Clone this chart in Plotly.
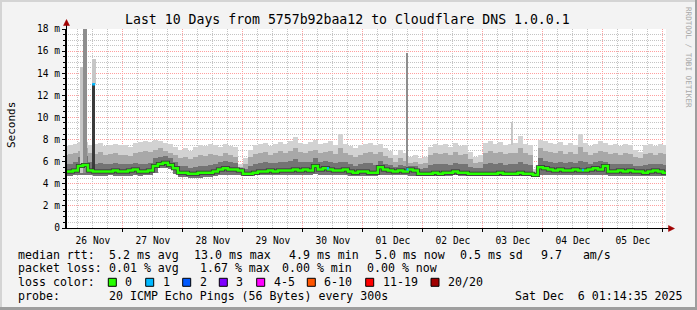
import plotly.graph_objects as go
from datetime import datetime, timedelta

# ---------------- data ----------------
title_text = "Last 10 Days from 5757b92baa12 to Cloudflare DNS 1.0.0.1"
y_axis_title = "Seconds"
watermark = "RRDTOOL / TOBI OETIKER"
first_bin = "2025-11-26 00:00:00"
bin_hours = 2
range_start = "2025-11-26 01:14:35"
range_end = "2025-12-06 01:14:35"

y_tick_vals = [0, 2, 4, 6, 8, 10, 12, 14, 16, 18]
y_tick_text = ["0", "2 m", "4 m", "6 m", "8 m", "10 m", "12 m", "14 m", "16 m", "18 m"]

# 2-hour bins, values in ms (Nov 26 .. Dec 6)
median = [
    5.1, 5.1, 5.2, 5.6, 5.7, 5.2, 5.1, 5.1, 5.1, 5.1, 5.2, 5.1,
    5.1, 5.2, 5.3, 5.1, 5.1, 5.2, 5.6, 5.8, 5.9, 5.7, 5.4, 5.0,
    5.0, 4.9, 4.9, 5.0, 5.0, 5.0, 5.1, 5.3, 5.4, 5.3, 5.3, 5.2,
    4.9, 4.9, 5.0, 5.1, 5.1, 5.2, 5.1, 5.2, 5.2, 5.2, 5.3, 5.2,
    5.3, 5.2, 5.6, 5.3, 5.4, 5.3, 5.2, 5.2, 5.3, 5.1, 5.0, 5.1,
    5.1, 5.0, 5.0, 5.5, 5.3, 5.2, 5.1, 5.2, 5.1, 5.3, 5.2, 4.9,
    4.9, 4.9, 5.0, 4.9, 5.0, 5.0, 5.1, 5.0, 5.0, 4.9, 4.9, 4.9,
    4.9, 4.9, 4.9, 5.0, 4.9, 4.9, 4.9, 5.0, 4.9, 4.9, 4.8, 5.5,
    5.4, 5.3, 5.2, 5.3, 5.2, 5.2, 5.3, 5.2, 5.2, 5.3, 5.4, 5.3,
    5.6, 5.1, 5.1, 5.2, 5.1, 5.2, 5.1, 5.1, 5.0, 5.1, 5.2, 5.1,
    5.0,
]
smoke_low = [
    4.7, 4.7, 4.8, 4.8, 4.8, 4.8, 4.7, 4.7, 4.7, 4.8, 4.7, 4.7,
    4.7, 4.7, 4.8, 4.7, 4.8, 4.8, 5.0, 5.4, 5.4, 5.3, 4.9, 4.6,
    4.6, 4.5, 4.5, 4.5, 4.6, 4.6, 4.7, 4.8, 4.8, 4.8, 4.8, 4.8,
    4.7, 4.7, 4.8, 4.8, 4.8, 4.8, 4.8, 4.8, 4.8, 4.8, 4.8, 4.8,
    4.8, 4.8, 4.9, 4.8, 4.8, 4.8, 4.8, 4.8, 4.8, 4.7, 4.7, 4.7,
    4.7, 4.7, 4.7, 4.8, 4.8, 4.8, 4.8, 4.8, 4.8, 4.7, 4.7, 4.7,
    4.7, 4.7, 4.7, 4.7, 4.7, 4.7, 4.8, 4.7, 4.7, 4.7, 4.7, 4.7,
    4.7, 4.7, 4.7, 4.7, 4.7, 4.7, 4.7, 4.7, 4.7, 4.7, 4.6, 4.8,
    4.8, 4.8, 4.8, 4.8, 4.8, 4.8, 4.8, 4.8, 4.8, 4.8, 4.8, 4.8,
    4.8, 4.7, 4.7, 4.7, 4.7, 4.7, 4.7, 4.7, 4.7, 4.7, 4.7, 4.7,
    4.7,
]
smoke_dark_top = [
    5.8, 5.8, 6.0, 6.4, 6.5, 6.0, 5.8, 5.9, 5.8, 5.8, 5.9, 5.8,
    5.8, 5.8, 5.9, 5.8, 5.8, 5.9, 6.3, 6.4, 6.5, 6.3, 6.0, 5.6,
    5.6, 5.4, 5.5, 5.6, 5.6, 5.7, 5.8, 6.0, 6.1, 6.0, 5.9, 5.4,
    5.3, 5.6, 5.8, 5.9, 6.0, 5.9, 5.9, 6.0, 6.0, 6.1, 6.2, 6.0,
    6.0, 6.0, 6.3, 6.0, 6.1, 6.0, 5.9, 6.0, 6.0, 5.8, 5.6, 5.8,
    5.9, 5.9, 5.7, 6.1, 5.8, 5.7, 5.5, 5.7, 5.6, 5.6, 5.6, 5.3,
    5.4, 5.7, 5.8, 5.8, 5.8, 5.7, 5.9, 5.8, 5.8, 5.5, 5.4, 5.4,
    5.8, 5.9, 5.8, 5.9, 5.7, 5.8, 5.8, 6.0, 5.8, 5.7, 4.9, 6.3,
    6.1, 6.0, 5.9, 6.0, 5.9, 6.0, 5.9, 6.1, 6.0, 5.8, 6.0, 6.1,
    6.0, 5.8, 5.8, 5.8, 5.8, 5.8, 5.6, 5.6, 5.7, 5.8, 5.8, 5.8,
    5.7,
]
smoke_mid_top = [
    6.6, 6.7, 6.8, 7.0, 7.2, 6.8, 6.7, 6.9, 6.6, 6.7, 6.8, 6.6,
    6.6, 6.5, 6.8, 6.9, 7.0, 6.9, 7.1, 7.2, 7.0, 6.8, 6.6, 6.3,
    6.4, 6.2, 6.4, 6.6, 6.5, 6.7, 6.6, 6.5, 6.8, 6.6, 6.4, 5.5,
    5.8, 6.4, 6.7, 6.8, 6.9, 6.6, 6.8, 7.0, 6.8, 7.0, 7.2, 6.9,
    6.8, 7.0, 7.1, 6.8, 6.9, 7.0, 6.7, 7.2, 6.8, 6.6, 6.4, 6.6,
    6.8, 6.9, 6.7, 6.9, 6.5, 6.3, 6.0, 6.3, 6.1, 5.9, 6.0, 5.8,
    5.9, 6.6, 6.8, 6.7, 6.8, 6.6, 6.9, 6.6, 6.7, 6.2, 5.9, 6.0,
    6.8, 7.0, 6.8, 6.9, 6.7, 6.8, 6.8, 7.2, 6.8, 6.6, 5.1, 7.2,
    7.0, 6.9, 6.8, 7.0, 6.7, 6.9, 6.7, 7.3, 6.9, 6.6, 6.8, 7.0,
    6.9, 6.7, 6.8, 6.6, 6.8, 6.7, 6.4, 6.3, 6.7, 6.8, 6.6, 6.8,
    6.7,
]
smoke_high = [
    7.4, 7.5, 7.6, 7.8, 7.8, 7.5, 7.6, 7.7, 7.4, 7.5, 7.6, 7.5,
    7.5, 7.3, 7.7, 7.8, 7.9, 7.8, 8.0, 7.9, 7.7, 7.6, 7.3, 7.1,
    7.2, 7.0, 7.3, 7.5, 7.4, 7.6, 7.5, 7.3, 7.6, 7.4, 7.3, 5.8,
    6.3, 7.1, 7.5, 7.6, 7.7, 7.4, 7.6, 7.8, 7.6, 7.9, 8.2, 7.7,
    7.6, 7.8, 8.0, 7.6, 7.7, 7.9, 7.5, 8.5, 7.6, 7.4, 7.2, 7.5,
    7.6, 7.7, 7.5, 7.6, 7.2, 7.0, 6.6, 7.1, 6.8, 6.4, 6.6, 6.3,
    6.4, 7.3, 7.6, 7.5, 7.6, 7.3, 7.7, 7.4, 7.5, 6.9, 6.4, 6.6,
    7.7, 7.9, 7.6, 7.8, 7.5, 7.6, 7.7, 8.3, 7.6, 7.5, 5.3, 8.0,
    7.9, 7.7, 7.6, 7.8, 7.5, 7.7, 7.5, 8.5, 7.7, 7.4, 7.6, 7.9,
    7.7, 7.5, 7.6, 7.4, 7.6, 7.5, 7.1, 6.9, 7.5, 7.6, 7.4, 7.6,
    7.5,
]

# short spikes (start, end, low, high) in ms
light_spike_start = ["2025-11-26 06:55", "2025-11-26 11:43", "2025-12-03 11:19"]
light_spike_end = ["2025-11-26 08:07", "2025-11-26 13:19", "2025-12-03 12:07"]
light_spike_low = [5.0, 13.0, 7.5]
light_spike_high = [14.6, 15.3, 9.6]

mid_spike_start = ["2025-11-26 08:07", "2025-12-01 17:19"]
mid_spike_end = ["2025-11-26 09:43", "2025-12-01 18:07"]
mid_spike_low = [5.0, 5.5]
mid_spike_high = [18.5, 15.8]

dark_spike_start = ["2025-11-26 11:43"]
dark_spike_end = ["2025-11-26 12:55"]
dark_spike_low = [5.2]
dark_spike_high = [13.0]

# median samples with 1 lost ping (start, end, value)
loss1_start = ["2025-11-26 11:43", "2025-11-30 09:36", "2025-12-01 17:26", "2025-12-04 15:36"]
loss1_end = ["2025-11-26 12:55", "2025-11-30 10:24", "2025-12-01 18:14", "2025-12-04 16:24"]
loss1_value = [13.0, 5.4, 5.3, 5.25]

legend_median = ["median rtt:", "5.2 ms avg", "13.0 ms max", "4.9 ms min",
                 "5.0 ms now", "0.5 ms sd", "9.7   am/s"]
legend_loss = ["packet loss:", "0.01 % avg", "1.67 % max", "0.00 % min", "0.00 % now"]
loss_color_title = "loss color:"
loss_color_labels = ["0", "1", "2", "3", "4-5", "6-10", "11-19", "20/20"]
loss_color_values = ["#26ff00", "#00b8ff", "#0059ff", "#7e00ff", "#ff00ff",
                     "#ff5500", "#ff0000", "#a00000"]
legend_probe = ["probe:", "20 ICMP Echo Pings (56 Bytes) every 300s",
                "Sat Dec  6 01:14:35 2025"]

# ---------------- figure ----------------
W, H = 697, 310
PL, PR, PT, PB = 66, 666, 29, 228
FONT = "DejaVu Sans Mono"


def px_x(px):
    return (px - PL) / (PR - PL)


def px_y(py):
    return (PB - py) / (PB - PT)


def ts(s):
    return datetime.fromisoformat(s)


t0 = ts(first_bin)
step = timedelta(hours=bin_hours)
times = [t0 + step * k for k in range(len(median))]
step_ms = bin_hours * 3600 * 1000

fig = go.Figure()


def band(top, color):
    fig.add_trace(go.Bar(
        x=times, y=[t - l for t, l in zip(top, smoke_low)], base=smoke_low,
        width=step_ms, offset=0,
        marker=dict(color=color, line=dict(width=0)), hoverinfo="skip"))


band(smoke_high, "#d2d2d2")
band(smoke_mid_top, "#a8a8a8")
band(smoke_dark_top, "#747474")


def spikes(starts, ends, lows, highs, color):
    s = [ts(v) for v in starts]
    e = [ts(v) for v in ends]
    fig.add_trace(go.Bar(
        x=s, y=[h - l for h, l in zip(highs, lows)], base=lows,
        width=[(b - a).total_seconds() * 1000 for a, b in zip(s, e)], offset=0,
        marker=dict(color=color, line=dict(width=0)), hoverinfo="skip"))


spikes(light_spike_start, light_spike_end, light_spike_low, light_spike_high, "#c6c6c6")
spikes(mid_spike_start, mid_spike_end, mid_spike_low, mid_spike_high, "#8e8e8e")

mx = times + [times[-1] + step]
my = median + [median[-1]]
fig.add_trace(go.Scatter(x=mx, y=my, mode="lines",
                         line=dict(shape="hv", color="#333333", width=4),
                         hoverinfo="skip"))
fig.add_trace(go.Scatter(x=mx, y=my, mode="lines",
                         line=dict(shape="hv", color=loss_color_values[0], width=2.5),
                         hoverinfo="skip"))

spikes(dark_spike_start, dark_spike_end, dark_spike_low, dark_spike_high, "#3a3a3a")

lx, ly = [], []
for a, b, v in zip(loss1_start, loss1_end, loss1_value):
    lx += [ts(a), ts(b), None]
    ly += [v, v, None]
fig.add_trace(go.Scatter(x=lx, y=ly, mode="lines",
                         line=dict(color=loss_color_values[1], width=2.5),
                         hoverinfo="skip"))

major_grid = "#ff9f9f"
minor_grid = "#c4c4c4"
dash = "1px,1px"

fig.update_layout(
    width=W, height=H,
    margin=dict(l=PL, r=W - PR, t=PT, b=H - PB, pad=0),
    paper_bgcolor="#f3f3f3", plot_bgcolor="#ffffff",
    showlegend=False, barmode="overlay", bargap=0,
    hovermode=False,
    font=dict(family=FONT, size=10, color="#000000"),
    xaxis=dict(
        type="date", range=[range_start, range_end],
        tickmode="linear", tick0="2025-11-26", dtick=86400000,
        tickformat="%d %b", ticklabelmode="period",
        tickfont=dict(family=FONT, size=9.6, color="#000000"),
        showgrid=True, gridcolor=major_grid, griddash=dash, gridwidth=1,
        ticks="outside", ticklen=3, tickcolor="#000000",
        showline=True, linecolor="#000000", linewidth=1,
        zeroline=False, fixedrange=True,
        minor=dict(tickmode="linear", tick0="2025-11-26", dtick=21600000,
                   showgrid=True, gridcolor=minor_grid, griddash=dash, gridwidth=1,
                   ticks=""),
    ),
    yaxis=dict(
        range=[0, 18], tickmode="array", tickvals=y_tick_vals, ticktext=y_tick_text,
        tickfont=dict(family=FONT, size=9.6, color="#000000"),
        showgrid=True, gridcolor=major_grid, griddash=dash, gridwidth=1,
        ticks="outside", ticklen=3, tickcolor="#000000",
        showline=True, linecolor="#000000", linewidth=1,
        zeroline=False, fixedrange=True,
        minor=dict(tickmode="linear", tick0=0, dtick=0.5,
                   showgrid=True, gridcolor=minor_grid, griddash=dash, gridwidth=1,
                   ticks="outside", ticklen=2, tickcolor="#000000"),
    ),
)

ann = []


def text(px, py, s, size=11.6, anchor="left", color="#000000", angle=0):
    ann.append(dict(x=px_x(px), y=px_y(py), xref="paper", yref="paper", text=s,
                    showarrow=False, xanchor=anchor, yanchor="middle", textangle=angle,
                    font=dict(family=FONT, size=size, color=color)))


text(347.5, 19, title_text, size=13.2, anchor="center")
text(11, 125, y_axis_title, size=11, anchor="center", angle=-90)
text(689, 57, watermark, size=7.6, anchor="center", color="#a8a8a8", angle=90)

row1, row2, row3, row4 = 254.5, 268.3, 282.3, 296
for px, s in zip([16, 107.3, 192, 287, 372.7, 458.3, 539], legend_median):
    text(px, row1, s.replace(" ", "&nbsp;"))
for px, s in zip([16, 107.3, 197.5, 280, 365], legend_loss):
    text(px, row2, s)
text(16, row3, loss_color_title)
box_x = [108.3, 145.7, 182.7, 219.3, 256.7, 307.3, 365.7, 431]
shapes = []
for bx, lab, col in zip(box_x, loss_color_labels, loss_color_values):
    shapes.append(dict(type="rect", xref="paper", yref="paper",
                       x0=px_x(bx), x1=px_x(bx + 8), y0=px_y(278.3), y1=px_y(286.3),
                       fillcolor=col, line=dict(color="#000000", width=1)))
    text(bx + 15, row3, lab)
for px, s in zip([16, 107.3, 513.3], legend_probe):
    text(px, row4, s.replace(" ", "&nbsp;"))

# axis extensions + arrows
ARROW = "#a00000"
shapes += [
    dict(type="line", xref="paper", yref="paper", x0=px_x(66.5), x1=px_x(66.5),
         y0=px_y(228), y1=px_y(24), line=dict(color="#000000", width=1)),
    dict(type="line", xref="paper", yref="paper", x0=px_x(62), x1=px_x(669),
         y0=px_y(228.5), y1=px_y(228.5), line=dict(color="#000000", width=1)),
    dict(type="path", xref="paper", yref="paper",
         path=f"M {px_x(63.5)} {px_y(25.5)} L {px_x(69.5)} {px_y(25.5)} L {px_x(66.5)} {px_y(19.5)} Z",
         fillcolor=ARROW, line=dict(color=ARROW, width=0.5)),
    dict(type="path", xref="paper", yref="paper",
         path=f"M {px_x(668.5)} {px_y(225.5)} L {px_x(668.5)} {px_y(231.5)} L {px_x(674.5)} {px_y(228.5)} Z",
         fillcolor=ARROW, line=dict(color=ARROW, width=0.5)),
    # outer frame
    dict(type="line", xref="paper", yref="paper", x0=px_x(0), x1=px_x(697),
         y0=px_y(1), y1=px_y(1), line=dict(color="#d4d4d4", width=2)),
    dict(type="line", xref="paper", yref="paper", x0=px_x(1), x1=px_x(1),
         y0=px_y(0), y1=px_y(310), line=dict(color="#d4d4d4", width=2)),
    dict(type="line", xref="paper", yref="paper", x0=px_x(696), x1=px_x(696),
         y0=px_y(0), y1=px_y(310), line=dict(color="#9e9e9e", width=2)),
    dict(type="line", xref="paper", yref="paper", x0=px_x(0), x1=px_x(697),
         y0=px_y(308.5), y1=px_y(308.5), line=dict(color="#9e9e9e", width=3)),
]

fig.update_layout(annotations=ann, shapes=shapes)
fig.write_html("out.html", config={"displayModeBar": False, "staticPlot": True})
